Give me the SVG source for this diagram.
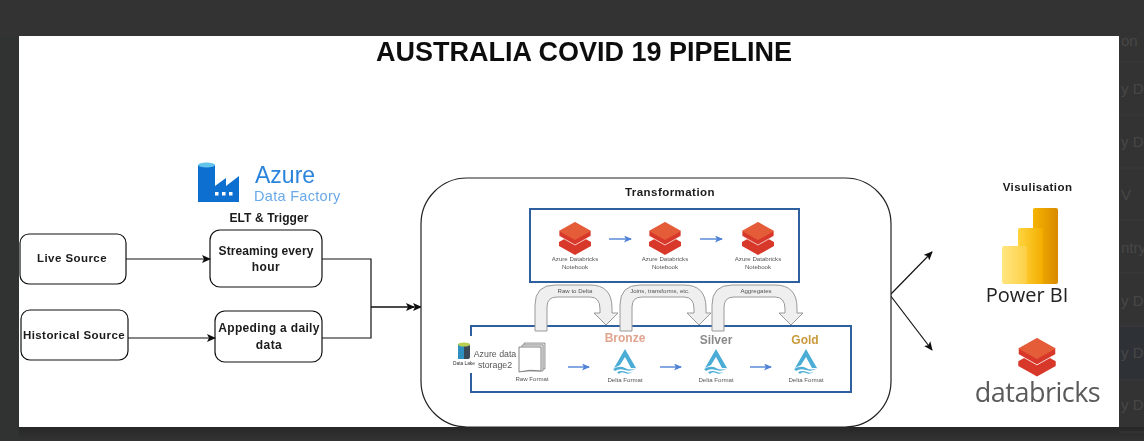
<svg xmlns="http://www.w3.org/2000/svg" width="1144" height="441" viewBox="0 0 1144 441">
<style>
text{font-family:"Liberation Sans",Arial,sans-serif}
.b{font-weight:bold;fill:#1a1a1a;letter-spacing:.45px}
.m{text-anchor:middle}
.node{fill:#fff;stroke:#111;stroke-width:1.2}
.conn{fill:none;stroke:#111;stroke-width:1.2}
.tiny{font-size:6.1px;fill:#555;text-anchor:middle}
.blue{fill:none;stroke:#2f5f9e;stroke-width:2}
.flow{fill:none;stroke:#5b8bd8;stroke-width:1.5;marker-end:url(#bl)}
.curve{fill:#efefef;stroke:#999;stroke-width:1}
.bg{font-size:15px;fill:#474747}
.rowl{stroke:#3a3a3a;stroke-width:1}
.os{font-family:"Open Sans",sans-serif}
</style>
<defs>
<marker id="ar" markerWidth="9" markerHeight="8" refX="8" refY="4" orient="auto" markerUnits="userSpaceOnUse"><path d="M0 0L9 4L0 8L2 4Z" fill="#111"/></marker>
<marker id="bl" markerWidth="8" markerHeight="7" refX="7" refY="3.5" orient="auto" markerUnits="userSpaceOnUse"><path d="M0 0L8 3.500L0 7L2 3.500Z" fill="#4f82d8"/></marker>
<linearGradient id="p1" x1="0" x2="1" y1="0" y2="0"><stop offset="0" stop-color="#f5b400"/><stop offset="1" stop-color="#d98a00"/></linearGradient>
<linearGradient id="p2" x1="0" x2="1" y1="0" y2="0"><stop offset="0" stop-color="#ffd53f"/><stop offset="1" stop-color="#f3ad00"/></linearGradient>
<linearGradient id="p3" x1="0" x2="1" y1="0" y2="0"><stop offset="0" stop-color="#ffe680"/><stop offset="1" stop-color="#fdcf45"/></linearGradient>
<linearGradient id="fl" x1="0" x2="0" y1="0" y2="1"><stop offset="0" stop-color="#272727"/><stop offset="1" stop-color="#333"/></linearGradient>
<g id="bricks"><path d="M0 2L16 11V15L0 24L-16 15V11Z" fill="#d8392b"/><path d="M0 -9L16 0V5L0 14L-16 5V0Z" fill="#d8392b" stroke="#fff" stroke-width=".7"/><path d="M0 -9L16 0L0 9L-16 0Z" fill="#e55d38"/></g>
<g id="delta"><path d="M-11 6L0 -13L11 6H6L0 -5L-5 3Z" fill="#4cacd6"/><path d="M-12 7Q-5 3 0 6T12 6Q6 10 0 8T-10 9ZM-8 10Q-3 8 1 10T9 9Q4 13 0 11T-6 12Z" fill="#4cacd6"/></g>
<filter id="soft" x="0" y="0" width="100%" height="100%"><feGaussianBlur stdDeviation="0.35"/></filter>
</defs>
<rect width="1144" height="441" fill="#333"/>
<rect y="427" width="1144" height="14" fill="url(#fl)"/>
<rect x="0" y="36" width="19" height="405" fill="#303332"/>
<g id="backdrop">
<path class="rowl" d="M1119 62H1144M1119 115H1144M1119 168H1144M1119 220H1144M1119 273H1144M1119 326H1144M1119 380H1144M1119 432H1144"/>
<rect x="1119" y="327" width="25" height="52" fill="#2e3236"/>
<text class="bg" x="1121" y="46">on</text>
<text class="bg" x="1121" y="94">y D</text>
<text class="bg" x="1121" y="147">y D</text>
<text class="bg" x="1121" y="200">V</text>
<text class="bg" x="1121" y="253">ntry</text>
<text class="bg" x="1121" y="306">y D</text>
<text class="bg" x="1121" y="358">y D</text>
<text class="bg" x="1121" y="410">y D</text>
</g>
<g filter="url(#soft)">
<rect x="19" y="36" width="1100" height="391" fill="#fff"/>
<text id="title" class="m" x="584" y="61" font-size="27" font-weight="bold" fill="#111">AUSTRALIA COVID 19 PIPELINE</text>
<g id="adf">
<path d="M198 165H215V186L226 178V186L239 176V202H198Z" fill="#0f6fd0"/>
<path d="M198 165a8.500 2.500 0 0 1 17 0a8.500 2.500 0 0 1-17 0Z" fill="#62c4ea"/>
<rect x="215" y="192" width="3.500" height="3.500" fill="#fff"/><rect x="222" y="192" width="3.500" height="3.500" fill="#fff"/><rect x="229" y="192" width="3.500" height="3.500" fill="#fff"/>
<text x="255" y="183" font-size="23" fill="#2a84dc">Azure</text>
<text x="254" y="201" font-size="14.500" fill="#6aa9e8" style="letter-spacing:.3px">Data Factory</text>
<text class="b m" x="269" y="222" font-size="12" style="letter-spacing:.1px">ELT &amp; Trigger</text>
</g>
<g id="live"><rect class="node" x="20" y="234" width="106" height="50" rx="9"/><text class="b m" x="72" y="262" font-size="11.500">Live Source</text></g>
<g id="historical"><rect class="node" x="21" y="310" width="107" height="50" rx="9"/><text class="b m" x="74" y="339" font-size="11.500">Historical Source</text></g>
<g id="streaming"><rect class="node" x="210" y="230" width="112" height="57" rx="10"/><text class="b m" x="266" y="255" font-size="12" style="letter-spacing:.1px">Streaming every</text><text class="b m" x="266" y="271" font-size="12">hour</text></g>
<g id="appending"><rect class="node" x="215" y="311" width="107" height="51" rx="10"/><text class="b m" x="269" y="332" font-size="12" style="letter-spacing:.35px">Appeding a daily</text><text class="b m" x="269" y="349" font-size="12">data</text></g>
<g id="connectors">
<path class="conn" d="M126 259H210" marker-end="url(#ar)"/>
<path class="conn" d="M128 338H215" marker-end="url(#ar)"/>
<path class="conn" d="M322 259H371V307"/>
<path class="conn" d="M322 338H371V307"/>
<path class="conn" d="M371 307H414" marker-end="url(#ar)"/>
<path class="conn" d="M371 307H421" marker-end="url(#ar)"/>
<path class="conn" d="M890 295L932 252" marker-end="url(#ar)"/>
<path class="conn" d="M890 295L932 350" marker-end="url(#ar)"/>
</g>
<g id="transformation">
<rect x="421" y="178" width="470" height="249" rx="46" fill="#fff" stroke="#222" stroke-width="1.2"/>
<text class="b m" x="670" y="196" font-size="11.500">Transformation</text>
<rect class="blue" x="530" y="209" width="269" height="73"/>
<use href="#bricks" x="575" y="231"/><use href="#bricks" x="665" y="231"/><use href="#bricks" x="758" y="231"/>
<path class="flow" d="M609 239H631"/><path class="flow" d="M700 239H722"/>
<text class="tiny" x="575" y="261">Azure Databricks</text><text class="tiny" x="575" y="269">Notebook</text>
<text class="tiny" x="665" y="261">Azure Databricks</text><text class="tiny" x="665" y="269">Notebook</text>
<text class="tiny" x="758" y="261">Azure Databricks</text><text class="tiny" x="758" y="269">Notebook</text>
<path class="blue" d="M471 336V326H851V392H471V373"/>
<path class="curve" d="M535 331V305Q535 285 555 285H590Q612 285 612 308V313H618L606 325L594 313H600V309Q600 297 590 297H557Q547 297 547 307V331Z"/>
<path class="curve" d="M620 331V305Q620 285 640 285H684Q706 285 706 308V313H711L699 325L687 313H694V309Q694 297 684 297H642Q632 297 632 307V331Z"/>
<path class="curve" d="M712 331V305Q712 285 732 285H775Q797 285 797 308V313H803L791 325L779 313H785V309Q785 297 775 297H734Q724 297 724 307V331Z"/>
<text class="tiny" x="575" y="292.500">Raw to Delta</text>
<text class="tiny" x="660" y="292.500">Joins, transforms, etc.</text>
<text class="tiny" x="756" y="292.500">Aggregates</text>
<rect x="458" y="344" width="12" height="15" rx="2" fill="#3a4a56"/><rect x="458" y="344" width="6" height="15" fill="#2f8fc0"/><ellipse cx="464" cy="344.500" rx="6" ry="2" fill="#b9cf4f"/>
<text x="464" y="365" font-size="4.800" fill="#333" text-anchor="middle">Data Lake</text>
<text x="495" y="356.500" font-size="8.800" fill="#555" text-anchor="middle">Azure data</text>
<text x="495" y="367.500" font-size="8.800" fill="#555" text-anchor="middle">storage2</text>
<path d="M524 343H545V369H524Z" fill="#ddd" stroke="#777" stroke-width=".7"/><path d="M522 345H543V371H522Z" fill="#eee" stroke="#777" stroke-width=".7"/><path d="M519 347H541V371Q530 369 519 372Z" fill="#fff" stroke="#666" stroke-width=".8"/>
<text class="tiny" x="532" y="381">Raw Format</text>
<path class="flow" d="M568 367H589"/><path class="flow" d="M660 367H681"/><path class="flow" d="M750 367H771"/>
<text class="m" x="625" y="342" font-size="12" font-weight="bold" fill="#e0a48f">Bronze</text>
<text class="m" x="716" y="344" font-size="12" font-weight="bold" fill="#8a8a8a">Silver</text>
<text class="m" x="805" y="344" font-size="12" font-weight="bold" fill="#c9983a">Gold</text>
<use href="#delta" x="625" y="362"/><use href="#delta" x="716" y="362"/><use href="#delta" x="806" y="362"/>
<text class="tiny" x="625" y="381.500">Delta Format</text><text class="tiny" x="716" y="381.500">Delta Format</text><text class="tiny" x="806" y="381.500">Delta Format</text>
</g>
<g id="powerbi">
<text class="b m" x="1037.500" y="191" font-size="11.500">Visulisation</text>
<rect x="1033" y="208" width="25" height="76" rx="2" fill="url(#p1)"/>
<rect x="1018" y="228" width="25" height="56" rx="2" fill="url(#p2)"/>
<rect x="1002" y="246" width="25" height="38" rx="2" fill="url(#p3)"/>
<text class="m os" x="1027" y="302" font-size="20" fill="#222">Power BI</text>
</g>
<g id="databricks">
<use href="#bricks" transform="translate(1037,348.500) scale(1.170)"/>
<text class="m os" x="1037.500" y="402" font-size="27" fill="#5a5a5a" style="letter-spacing:-.5px">databricks</text>
</g>
</g>
</svg>
